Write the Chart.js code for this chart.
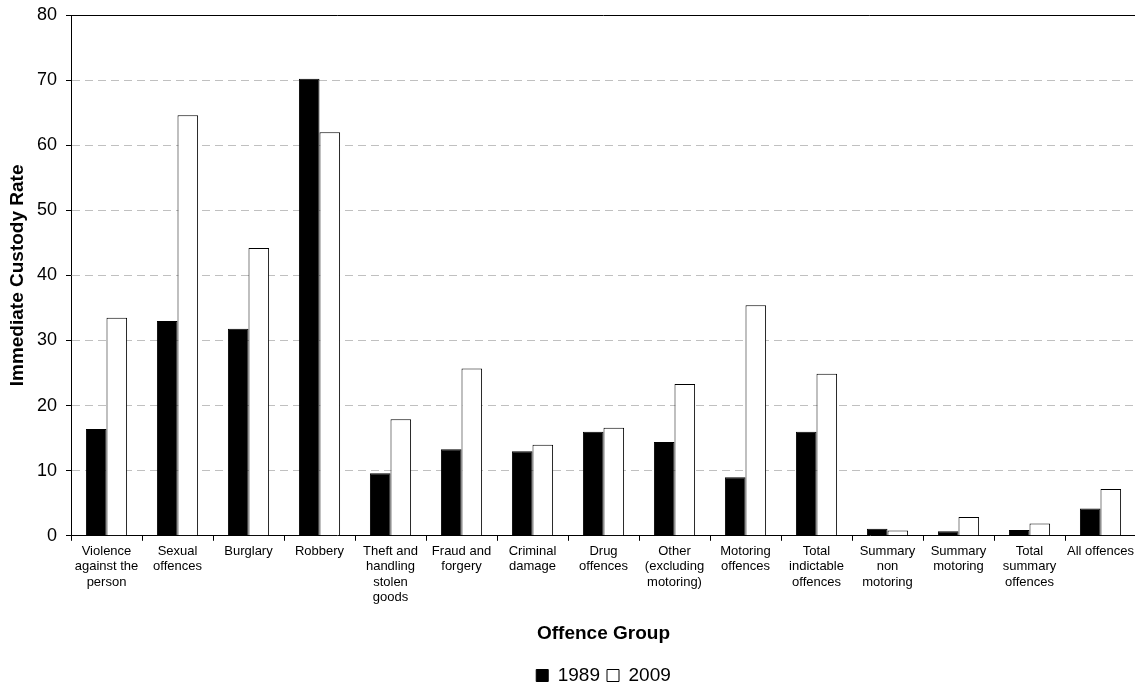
<!DOCTYPE html>
<html>
<head>
<meta charset="utf-8">
<script src="https://cdn.jsdelivr.net/npm/chart.js@4/dist/chart.umd.min.js"></script>
<style>
    html, body { margin: 0; padding: 0; background: #fff; overflow: hidden; }
    #wrap { width: 1140px; height: 684px; }
</style>
</head>
<body>
<div id="wrap"><canvas id="custody-chart"></canvas></div>
<script>
    // Offence groups (multi-line labels as shown under the axis)
    var categories = [
        ['Violence', 'against the', 'person'],
        ['Sexual', 'offences'],
        ['Burglary'],
        ['Robbery'],
        ['Theft and', 'handling', 'stolen', 'goods'],
        ['Fraud and', 'forgery'],
        ['Criminal', 'damage'],
        ['Drug', 'offences'],
        ['Other', '(excluding', 'motoring)'],
        ['Motoring', 'offences'],
        ['Total', 'indictable', 'offences'],
        ['Summary', 'non', 'motoring'],
        ['Summary', 'motoring'],
        ['Total', 'summary', 'offences'],
        ['All offences']
    ];

    var rates1989 = [16.4, 33.0, 31.8, 70.2, 9.6, 13.3, 13.0, 16.0, 14.4, 9.0, 16.0, 1.1, 0.7, 0.9, 4.2];
    var rates2009 = [33.5, 64.6, 44.2, 62.0, 17.9, 25.7, 14.0, 16.6, 23.3, 35.4, 24.9, 0.8, 2.9, 1.9, 7.2];

    var yTicks = [0, 10, 20, 30, 40, 50, 60, 70, 80];

    var fontFamily = 'Arial, "Liberation Sans", sans-serif';
    var plotBottom = 535;
    var layoutBottom = -11;   // let the legend's spare bottom space run off the canvas
    var legendFont = 19;
    var legendPad = 7;
    // height the legend takes for one row (line height plus padding above/below)
    var legendHeight = legendFont * 1.2 + legendPad * 2;

    // Solid frame line along the top of the plot area
    var topFrame = {
        id: 'topFrame',
        afterDraw: function(chart) {
            var ctx = chart.ctx;
            var area = chart.chartArea;
            ctx.save();
            ctx.strokeStyle = '#000';
            ctx.lineWidth = 1;
            ctx.beginPath();
            ctx.moveTo(area.left, Math.round(area.top) + 0.5);
            ctx.lineTo(area.right, Math.round(area.top) + 0.5);
            ctx.stroke();
            ctx.restore();
        }
    };

    new Chart(document.getElementById('custody-chart').getContext('2d'), {
        type: 'bar',
        data: {
            labels: categories,
            datasets: [{
                label: '1989',
                data: rates1989,
                backgroundColor: '#000',
                borderColor: '#000',
                borderWidth: 1
            }, {
                label: '2009',
                data: rates2009,
                backgroundColor: '#fff',
                borderColor: '#000',
                borderWidth: 1
            }]
        },
        options: {
            responsive: true,
            maintainAspectRatio: false,
            animation: false,
            datasets: {
                bar: {
                    categoryPercentage: 0.58,
                    barPercentage: 1.0,
                    borderSkipped: 'start'
                }
            },
            layout: {
                padding: { top: 15, right: 4, bottom: layoutBottom, left: 0 }
            },
            plugins: {
                tooltip: { enabled: false },
                legend: {
                    position: 'bottom',
                    fullSize: false,
                    labels: {
                        boxWidth: 12,
                        boxHeight: 12,
                        padding: legendPad,
                        color: '#000',
                        font: { size: legendFont, family: fontFamily }
                    }
                }
            },
            scales: {
                x: {
                    // keep the plot floor where the reference has it
                    afterFit: function(scale) {
                        scale.height = scale.chart.height - layoutBottom - plotBottom - legendHeight;
                    },
                    grid: {
                        offset: true,
                        drawOnChartArea: false,
                        drawTicks: true,
                        tickLength: 5,
                        color: '#000'
                    },
                    border: { display: true, color: '#000', width: 1 },
                    ticks: {
                        autoSkip: false,
                        maxRotation: 0,
                        minRotation: 0,
                        padding: 3,
                        color: '#000',
                        font: { size: 13, family: fontFamily, lineHeight: 1.18 }
                    },
                    title: {
                        display: true,
                        text: 'Offence Group',
                        color: '#000',
                        padding: { top: 0, bottom: 14 },
                        font: { size: 19, weight: 'bold', family: fontFamily }
                    }
                },
                y: {
                    min: 0,
                    max: 80,
                    afterFit: function(scale) {
                        scale.width = 71;
                        scale.paddingTop = 0;
                        scale.paddingBottom = 0;
                    },
                    afterBuildTicks: function(scale) {
                        scale.ticks = yTicks.map(function(v) { return { value: v }; });
                    },
                    grid: {
                        color: function(ctx) {
                            var v = ctx.tick ? ctx.tick.value : null;
                            return (v === 0 || v === 80) ? 'rgba(0,0,0,0)' : '#c0c0c0';
                        },
                        tickColor: '#000',
                        tickLength: 5,
                        tickBorderDash: []
                    },
                    border: { display: true, color: '#000', width: 1, dash: [8, 5] },
                    ticks: {
                        padding: 9,
                        color: '#000',
                        font: { size: 18, family: fontFamily }
                    },
                    title: {
                        display: true,
                        text: 'Immediate Custody Rate',
                        color: '#000',
                        padding: { top: 6, bottom: 0 },
                        font: { size: 19, weight: 'bold', family: fontFamily }
                    }
                }
            }
        },
        plugins: [topFrame]
    });
</script>
</body>
</html>
